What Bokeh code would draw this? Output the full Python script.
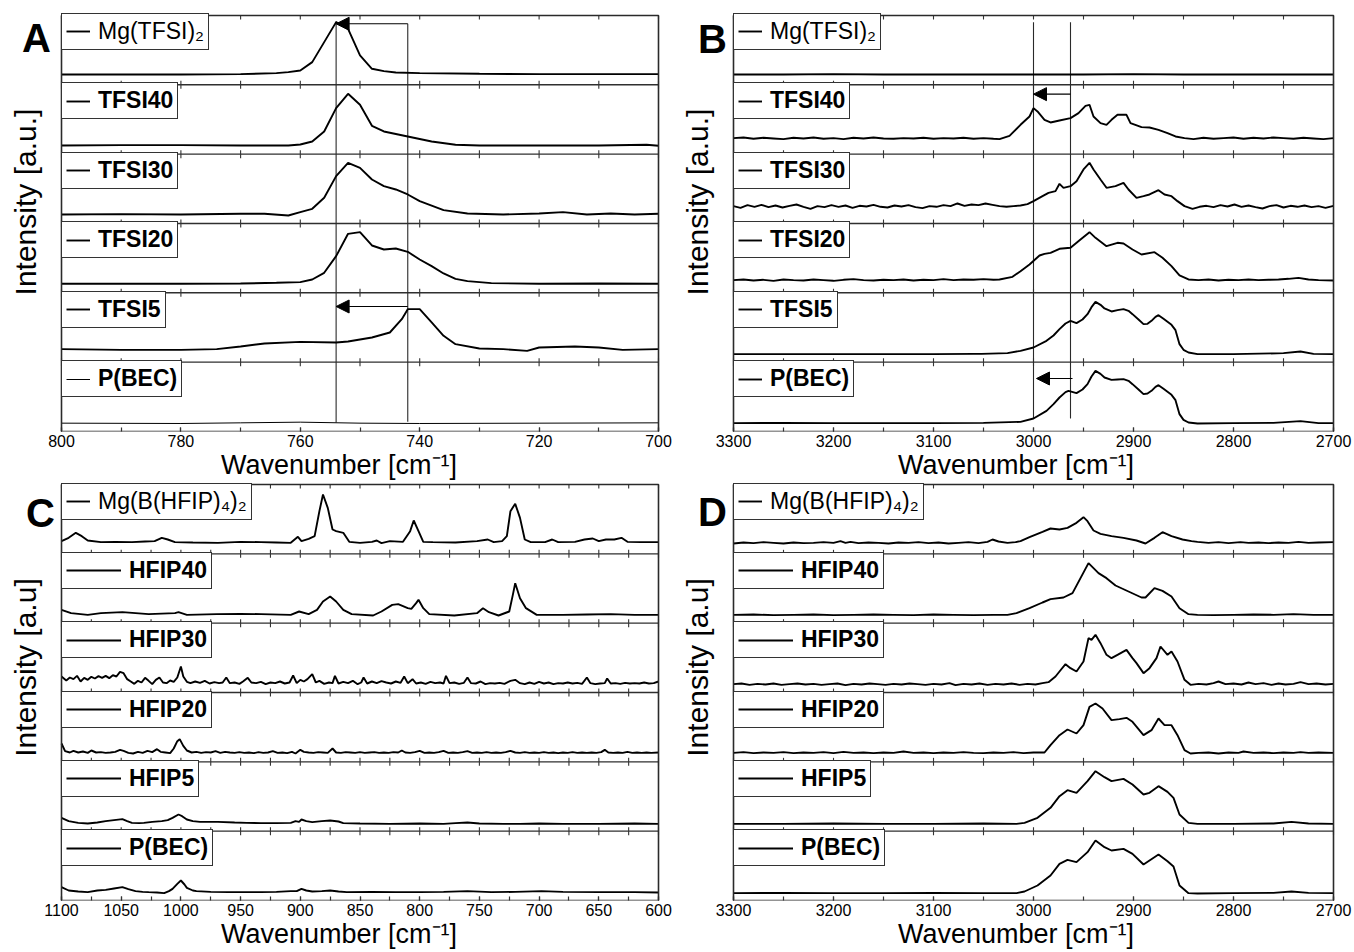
import math
import numpy as np
from bokeh.plotting import figure
from bokeh.models import (Range1d, Label, Legend, LegendItem, Arrow, NormalHead,
                          FixedTicker, BoxAnnotation)
from bokeh.layouts import column, row
from bokeh.embed import file_html
from bokeh.resources import INLINE

FONT = "Liberation Sans"
SPAN = 208  # intensity units per stacked sub-panel

# ---------------- Panel A (TFSI, 800-700 cm-1) ----------------
A_LABELS = ["Mg(TFSI)\u2082", "TFSI40", "TFSI30", "TFSI20", "TFSI5", "P(BEC)"]
A_MG_X = [800, 790, 780, 770, 764, 762, 760, 758, 756, 754, 752, 750, 748, 746, 744, 740, 730, 720, 710, 700]
A_MG_Y = [31, 31, 31, 32, 35, 38, 43, 68, 128, 188, 168, 88, 48, 41, 37, 35, 33, 32, 32, 32]
A_T40_X = [800, 790, 780, 770, 762, 760, 758, 756, 754, 752, 750, 748, 746, 742, 738, 734, 730, 720, 710, 702, 700]
A_T40_Y = [26, 27, 27, 26, 26, 29, 38, 68, 138, 181, 148, 85, 68, 53, 38, 28, 26, 26, 26, 28, 25]
A_T30_X = [800, 790, 780, 770, 766, 762, 760, 758, 756, 754, 752, 750, 748, 746, 744, 742, 740, 736, 732, 726, 720, 716, 712, 708, 704, 700]
A_T30_Y = [27, 28, 27, 29, 29, 24, 34, 44, 77, 142, 182, 167, 132, 112, 102, 87, 67, 40, 30, 27, 30, 34, 27, 30, 27, 29]
A_T20_X = [800, 780, 770, 764, 760, 758, 756, 754, 752, 750, 748, 746, 744, 742, 740, 738, 736, 734, 732, 728, 720, 710, 700]
A_T20_Y = [27, 27, 28, 30, 32, 40, 60, 110, 177, 182, 142, 130, 133, 123, 100, 80, 58, 42, 35, 29, 27, 28, 27]
A_T5_X = [800, 790, 780, 774, 770, 766, 760, 754, 752, 748, 745, 743, 742, 740, 738, 736, 734, 730, 726, 722, 720, 714, 710, 706, 700]
A_T5_Y = [39, 37, 37, 39, 47, 56, 61, 59, 62, 74, 89, 129, 159, 159, 119, 79, 54, 41, 39, 34, 44, 47, 44, 37, 39]
A_PB_X = [800, 780, 770, 760, 750, 740, 720, 700]
A_PB_Y = [25, 24, 26, 28, 25, 24, 25, 26]

# ---------------- Panel B (TFSI, 3300-2700 cm-1) ----------------
B_LABELS = A_LABELS
B_MG_X = [3300, 3250, 3200, 3150, 3100, 3050, 3000, 2950, 2900, 2850, 2800, 2750, 2700]
B_MG_Y = [31, 31, 32, 31, 31, 31, 31, 31, 32, 31, 31, 31, 31]
B_T40_X = [3300, 3290, 3280, 3270, 3260, 3250, 3240, 3230, 3220, 3210, 3200, 3190, 3180, 3170, 3160, 3150,
           3140, 3130, 3120, 3110, 3100, 3090, 3080, 3070, 3060, 3050, 3040,
           3034, 3024, 3013, 3004, 3000, 2996, 2989, 2983, 2974, 2963, 2955, 2948, 2944, 2940, 2933, 2927,
           2922, 2916, 2907, 2903, 2892, 2884, 2875, 2866, 2858, 2849,
           2840, 2830, 2820, 2810, 2800, 2790, 2780, 2770, 2760, 2750, 2740, 2730, 2720, 2710, 2700]
B_T40_Y = [48, 50, 46, 49, 47, 45, 49, 47, 50, 46, 48, 45, 49, 47, 50, 47, 46, 48, 47, 49, 46, 48, 47, 49, 46, 48, 46,
           45, 55, 88, 113, 138, 128, 103, 95, 101, 108, 123, 145, 148, 113, 93, 88, 103, 118, 118, 93, 81, 80, 73,
           63, 53, 48,
           45, 49, 46, 48, 50, 46, 49, 47, 50, 48, 46, 49, 47, 45, 48]
B_T30_X = [3300, 3293, 3286, 3279, 3272, 3265, 3258, 3251, 3244, 3237, 3230, 3223, 3216, 3209, 3202, 3195, 3188,
           3181, 3174, 3167, 3160, 3153, 3146, 3139, 3132, 3125, 3118, 3111, 3104, 3097, 3090, 3083, 3076, 3069,
           3062, 3055, 3048, 3041, 3034, 3027, 3020, 3013, 3006,
           3000, 2991, 2985, 2978, 2974, 2970, 2963, 2957, 2950, 2944, 2940, 2933, 2927, 2918, 2910, 2905, 2897,
           2890, 2884, 2875, 2869, 2862, 2856, 2849,
           2841, 2834, 2827, 2820, 2813, 2806, 2799, 2792, 2785, 2778, 2771, 2764, 2757, 2750, 2743, 2736, 2729,
           2722, 2715, 2708, 2700]
B_T30_Y = [52, 47, 55, 50, 56, 49, 54, 48, 53, 57, 50, 44, 52, 49, 55, 50, 54, 47, 53, 51, 56, 50, 48, 54, 51, 55,
           49, 46, 52, 50, 55, 52, 60, 53, 57, 55, 60, 56, 52, 50, 52, 54, 58,
           67, 82, 92, 97, 119, 107, 112, 127, 162, 182, 162, 132, 107, 112, 122, 102, 77, 82, 87, 100, 87, 82, 67, 52,
           44, 50, 53, 49, 55, 51, 57, 50, 54, 49, 45, 52, 55, 48, 53, 50, 54, 49, 52, 47, 53]
B_T20_X = [3300, 3290, 3280, 3270, 3260, 3250, 3240, 3230, 3220, 3210, 3200, 3190, 3180, 3170, 3160, 3150,
           3140, 3130, 3120, 3110, 3100, 3090, 3080, 3070, 3060, 3050, 3040,
           3034, 3021, 3013, 3004, 2994, 2989, 2983, 2974, 2963, 2953, 2944, 2938, 2927, 2916, 2910, 2901, 2892,
           2879, 2871, 2862, 2854, 2845,
           2835, 2825, 2815, 2805, 2795, 2785, 2775, 2765, 2755, 2745, 2735, 2725, 2715, 2700]
B_T20_Y = [38, 40, 37, 39, 36, 40, 38, 37, 40, 38, 36, 39, 41, 38, 37, 39, 38, 40, 37, 39, 38, 41, 38, 40, 39, 41, 39,
           40, 48, 65, 85, 112, 117, 120, 132, 135, 160, 182, 165, 140, 150, 148, 130, 115, 122, 105, 80, 52, 40,
           38, 40, 37, 39, 38, 40, 38, 39, 40, 42, 45, 40, 38, 37]
B_T5_X = [3300, 3200, 3100, 3060, 3052, 3026, 3013, 3000, 2987, 2980, 2974, 2968, 2963, 2957, 2951, 2946, 2942,
          2938, 2933, 2929, 2922, 2916, 2910, 2905, 2901, 2895, 2890, 2886, 2882, 2878, 2875, 2870, 2866, 2862,
          2858, 2854, 2850, 2845, 2836, 2800, 2750, 2733, 2720, 2700]
B_T5_Y = [24, 24, 24, 25, 25, 27, 34, 44, 64, 80, 99, 116, 124, 117, 128, 144, 165, 181, 172, 161, 152, 156, 159,
          154, 144, 128, 114, 115, 124, 136, 141, 130, 121, 112, 96, 54, 37, 29, 24, 24, 27, 32, 25, 24]
B_PB_X = [3300, 3250, 3200, 3150, 3100, 3050, 3013, 3000, 2987, 2980, 2974, 2968, 2965, 2957, 2951, 2946, 2942,
          2938, 2933, 2929, 2922, 2916, 2910, 2905, 2901, 2895, 2890, 2886, 2882, 2878, 2875, 2870, 2866, 2862,
          2858, 2854, 2850, 2845, 2836, 2800, 2760, 2733, 2715, 2700]
B_PB_Y = [25, 26, 25, 25, 25, 26, 29, 39, 62, 82, 102, 118, 122, 115, 126, 142, 165, 182, 173, 162, 155, 156, 157,
          152, 142, 126, 112, 114, 122, 134, 139, 128, 119, 110, 94, 52, 35, 27, 24, 25, 26, 31, 25, 25]

# ---------------- Panel C (HFIP, 1100-600 cm-1) ----------------
C_LABELS = ["Mg(B(HFIP)\u2084)\u2082", "HFIP40", "HFIP30", "HFIP20", "HFIP5", "P(BEC)"]
C_MG_X = [1100, 1094, 1088, 1083, 1078, 1067, 1055, 1041, 1030, 1022, 1016, 1011, 1005, 990, 969, 950, 933, 920,
          908, 902, 899, 893, 888, 884, 881, 877, 873, 870, 864, 859, 850, 840, 836, 832, 825, 814, 808, 805, 801,
          797, 789, 770, 752, 743, 738, 731, 727, 724, 720, 716, 712, 707, 695, 689, 684, 670, 662, 655, 650, 644,
          637, 631, 626, 615, 600]
C_MG_Y = [38, 48, 63, 53, 40, 35, 36, 35, 37, 38, 48, 43, 35, 34, 33, 36, 35, 34, 33, 51, 38, 45, 53, 128, 178,
          138, 73, 68, 63, 36, 33, 36, 40, 32, 38, 36, 68, 100, 68, 36, 35, 34, 38, 43, 35, 38, 53, 128, 150, 108,
          43, 35, 35, 43, 35, 36, 43, 46, 38, 43, 43, 48, 36, 35, 35]
C_H40_X = [1100, 1092, 1078, 1067, 1049, 1027, 1005, 1002, 995, 970, 950, 933, 908, 901, 893, 886, 881, 875, 870,
           864, 857, 839, 832, 823, 818, 810, 807, 803, 801, 797, 792, 771, 752, 747, 742, 734, 725, 722, 720, 716,
           711, 702, 680, 660, 640, 620, 600]
C_H40_Y = [40, 30, 25, 30, 33, 27, 30, 33, 25, 27, 28, 27, 25, 35, 27, 40, 65, 80, 65, 40, 27, 23, 35, 55, 57, 45,
           43, 60, 70, 45, 27, 23, 30, 45, 33, 23, 35, 85, 120, 75, 45, 25, 25, 26, 27, 25, 25]
C_H30_X = [1100, 1096, 1093, 1090, 1087, 1084, 1081, 1078, 1075, 1072, 1069, 1066, 1063, 1060, 1057, 1054, 1051,
           1048, 1045, 1042, 1039, 1036, 1033, 1030, 1027, 1024, 1021, 1018, 1015, 1012, 1009, 1006, 1003, 1000,
           998, 995, 992, 988, 984, 980, 976, 972, 968, 965, 962, 959, 955, 951, 948, 944, 941, 937, 933, 929, 925,
           921, 917, 913, 909, 906, 903, 900, 897, 894, 890, 887, 884, 880, 876, 873, 871, 868, 864, 860, 856, 852,
           849, 847, 844, 840, 836, 832, 828, 824, 820, 816, 813, 810, 806, 803, 799, 795, 791, 787, 783, 780, 778,
           775, 771, 767, 763, 760, 757, 753, 749, 745, 741, 737, 733, 729, 724, 720, 716, 712, 708, 704, 700, 696,
           692, 688, 684, 680, 676, 672, 668, 664, 660, 657, 653, 649, 645, 643, 640, 636, 632, 628, 624, 620, 616,
           612, 608, 604, 600]
C_H30_Y = [48, 36, 45, 40, 50, 33, 44, 38, 47, 42, 49, 44, 50, 43, 52, 48, 62, 58, 40, 33, 26, 35, 30, 44, 35, 25,
           38, 45, 30, 28, 36, 32, 45, 78, 48, 32, 28, 33, 29, 35, 27, 31, 28, 30, 45, 28, 30, 26, 33, 44, 30, 28,
           32, 25, 30, 28, 33, 27, 30, 51, 28, 38, 33, 40, 55, 30, 35, 26, 30, 28, 50, 27, 32, 28, 35, 25, 30, 45,
           27, 33, 28, 34, 30, 27, 33, 29, 48, 28, 40, 27, 30, 26, 32, 28, 30, 27, 50, 28, 30, 26, 29, 45, 28, 27,
           33, 25, 28, 27, 29, 26, 35, 38, 28, 25, 30, 26, 32, 27, 30, 25, 28, 27, 30, 27, 29, 26, 45, 28, 25, 27,
           28, 42, 27, 28, 26, 29, 27, 28, 27, 30, 27, 28, 33]
C_H20_X = [1100, 1097, 1093, 1090, 1086, 1082, 1078, 1075, 1071, 1067, 1063, 1059, 1055, 1051, 1048, 1044, 1040,
           1036, 1032, 1028, 1024, 1020, 1017, 1013, 1009, 1006, 1003, 1001, 998, 995, 991, 987, 983, 979, 975, 971,
           967, 963, 959, 955, 951, 947, 943, 939, 935, 931, 927, 923, 919, 915, 911, 907, 904, 900, 897, 893, 889,
           885, 881, 877, 873, 870, 866, 862, 858, 854, 850, 846, 842, 838, 834, 830, 826, 822, 818, 815, 812, 808,
           804, 800, 796, 792, 788, 784, 780, 776, 772, 768, 764, 760, 756, 752, 748, 744, 740, 736, 732, 728, 724,
           720, 716, 712, 708, 704, 700, 696, 692, 688, 684, 680, 676, 672, 668, 664, 660, 656, 652, 648, 645, 642,
           638, 634, 630, 626, 622, 618, 614, 610, 606, 600]
C_H20_Y = [55, 32, 28, 33, 28, 31, 27, 34, 28, 29, 27, 28, 30, 36, 33, 27, 25, 30, 27, 33, 29, 38, 30, 28, 26, 40,
           62, 68, 48, 34, 28, 30, 27, 29, 28, 32, 27, 30, 28, 27, 29, 27, 28, 26, 29, 27, 28, 32, 27, 28, 26, 30,
           25, 36, 30, 28, 27, 29, 28, 27, 40, 28, 27, 29, 28, 27, 29, 27, 28, 29, 27, 28, 27, 29, 28, 34, 28, 27,
           29, 33, 27, 28, 27, 29, 33, 27, 28, 27, 29, 32, 27, 28, 27, 29, 27, 28, 27, 29, 33, 28, 27, 29, 27, 28,
           27, 29, 27, 28, 26, 28, 27, 29, 27, 28, 27, 28, 27, 29, 36, 28, 27, 28, 27, 30, 27, 28, 27, 28, 27, 28]
C_H5_X = [1100, 1094, 1086, 1078, 1070, 1063, 1056, 1049, 1045, 1041, 1035, 1031, 1024, 1016, 1011, 1007, 1002,
          999, 995, 990, 984, 976, 969, 955, 945, 933, 920, 908, 904, 901, 899, 895, 890, 882, 875, 868, 864, 850,
          825, 800, 780, 770, 760, 750, 730, 716, 700, 680, 650, 620, 600]
C_H5_Y = [40, 30, 25, 23, 26, 30, 33, 36, 30, 25, 24, 25, 28, 30, 33, 40, 50, 45, 35, 30, 28, 28, 28, 26, 25, 24,
          24, 25, 30, 28, 35, 30, 27, 30, 32, 29, 24, 23, 22, 23, 22, 24, 26, 23, 22, 22, 23, 22, 22, 23, 22]
C_PB_X = [1100, 1094, 1086, 1078, 1070, 1063, 1056, 1049, 1044, 1038, 1032, 1027, 1020, 1014, 1010, 1007, 1003,
          1000, 997, 995, 990, 987, 975, 960, 945, 933, 920, 908, 903, 899, 895, 890, 882, 875, 868, 861, 840, 820,
          800, 780, 760, 740, 720, 698, 680, 650, 620, 600]
C_PB_Y = [40, 30, 27, 25, 30, 32, 36, 40, 34, 28, 26, 25, 24, 22, 28, 35, 50, 60, 48, 38, 30, 28, 26, 25, 25, 25,
          26, 28, 28, 35, 30, 27, 28, 30, 27, 25, 26, 25, 25, 26, 28, 25, 26, 28, 26, 25, 25, 24]

# ---------------- Panel D (HFIP, 3300-2700 cm-1) ----------------
D_LABELS = C_LABELS
D_MG_X = [3300, 3290, 3280, 3270, 3260, 3250, 3240, 3230, 3220, 3210, 3200, 3193, 3188, 3183, 3175, 3165, 3155,
          3145, 3135, 3125, 3115, 3105, 3095, 3085, 3075, 3065, 3055, 3046, 3041, 3035, 3026, 3018, 3013, 3004,
          2991, 2983, 2974, 2966, 2957, 2950, 2946, 2940, 2933, 2922, 2910, 2897, 2888, 2879, 2871, 2862, 2851,
          2842, 2836, 2825, 2815, 2805, 2793, 2785, 2775, 2765, 2755, 2745, 2735, 2725, 2715, 2700]
D_MG_Y = [31, 34, 32, 35, 33, 31, 34, 32, 33, 35, 33, 38, 33, 36, 32, 34, 33, 31, 34, 33, 35, 32, 34, 31, 33, 35,
          32, 36, 43, 37, 33, 35, 38, 50, 66, 76, 73, 78, 93, 110, 98, 70, 60, 53, 48, 40, 31, 48, 65, 53, 43, 38,
          36, 33, 35, 32, 35, 33, 34, 32, 34, 33, 36, 33, 34, 35]
D_H40_X = [3300, 3280, 3260, 3240, 3220, 3200, 3180, 3160, 3140, 3120, 3100, 3080, 3060, 3040, 3026, 3017, 3004,
           2991, 2983, 2970, 2961, 2953, 2945, 2935, 2927, 2918, 2905, 2892, 2888, 2879, 2871, 2862, 2854, 2845,
           2836, 2820, 2800, 2780, 2760, 2740, 2720, 2700]
D_H40_Y = [25, 26, 24, 25, 26, 24, 25, 26, 25, 24, 26, 25, 24, 25, 25, 30, 45, 62, 72, 77, 90, 135, 180, 150, 135,
           113, 95, 77, 77, 105, 97, 80, 45, 27, 25, 24, 25, 26, 25, 27, 25, 25]
D_H30_X = [3300, 3292, 3284, 3276, 3268, 3260, 3252, 3244, 3236, 3228, 3220, 3212, 3204, 3196, 3188, 3180, 3172,
           3164, 3156, 3148, 3140, 3132, 3124, 3116, 3108, 3100, 3092, 3084, 3078, 3070, 3062, 3054, 3046, 3038,
           3030, 3022, 3014, 3006, 2998,
           2991, 2985, 2978, 2974, 2968, 2963, 2957, 2950, 2945, 2942, 2938, 2933, 2927, 2922, 2916, 2907, 2901,
           2897, 2890, 2884, 2877, 2873, 2866, 2862, 2856, 2849, 2843,
           2835, 2827, 2820, 2815, 2808, 2800, 2792, 2785, 2778, 2770, 2762, 2755, 2748, 2740, 2733, 2725, 2717,
           2708, 2700]
D_H30_Y = [25, 27, 23, 26, 24, 27, 23, 25, 27, 24, 26, 23, 25, 27, 22, 26, 24, 27, 25, 23, 26, 24, 27, 25, 23, 26,
           24, 28, 22, 26, 24, 27, 23, 26, 24, 27, 23, 26, 24,
           28, 31, 48, 63, 85, 73, 63, 93, 163, 158, 173, 148, 113, 103, 113, 128, 103, 88, 58, 73, 103, 138, 113,
           123, 93, 38, 23,
           26, 24, 28, 33, 25, 27, 24, 30, 25, 28, 23, 27, 24, 26, 31, 25, 27, 24, 26]
D_H20_X = [3300, 3290, 3280, 3270, 3260, 3250, 3240, 3230, 3220, 3210, 3200, 3190, 3180, 3170, 3160, 3150, 3140,
           3130, 3120, 3110, 3100, 3090, 3080, 3070, 3060, 3050, 3040, 3030, 3020, 3010, 3000,
           2989, 2983, 2974, 2966, 2957, 2950, 2944, 2938, 2931, 2922, 2914, 2907, 2901, 2890, 2882, 2875, 2869,
           2862, 2856, 2849, 2843,
           2835, 2825, 2815, 2805, 2795, 2790, 2780, 2770, 2760, 2750, 2740, 2733, 2725, 2715, 2700]
D_H20_Y = [27, 29, 26, 28, 27, 29, 26, 28, 27, 29, 26, 30, 27, 28, 26, 28, 27, 31, 27, 28, 26, 28, 27, 29, 27, 26,
           28, 27, 29, 26, 28,
           28, 50, 80, 97, 85, 110, 165, 175, 160, 125, 128, 132, 120, 80, 95, 130, 110, 110, 80, 35, 25,
           27, 28, 25, 28, 27, 31, 27, 28, 26, 28, 27, 29, 27, 28, 27]
D_H5_X = [3300, 3250, 3200, 3150, 3100, 3050, 3017, 3009, 2996, 2983, 2974, 2966, 2957, 2946, 2938, 2929, 2922,
          2910, 2901, 2890, 2884, 2875, 2866, 2860, 2854, 2845, 2836, 2800, 2760, 2742, 2725, 2700]
D_H5_Y = [22, 22, 23, 22, 22, 23, 22, 25, 40, 70, 105, 123, 115, 150, 180, 162, 150, 157, 140, 110, 115, 135, 118,
          100, 50, 25, 22, 22, 23, 28, 23, 22]
D_PB_X = D_H5_X
D_PB_Y = [22, 23, 22, 22, 23, 22, 22, 27, 45, 75, 110, 122, 115, 145, 180, 160, 150, 155, 140, 108, 120, 138, 118,
          102, 45, 22, 21, 22, 23, 27, 23, 22]

# Marker lines and arrows (wavenumber, intensity-stack coordinates)
A_VLINES_X = [754, 742]
A_VLINES_Y0 = [27, 29]
A_VLINES_Y1 = [1231, 1223]
A_ARROWS = [(742, 1223, 754, 1223), (742, 375, 754, 375)]
B_VLINES_X = [3000, 2963]
B_VLINES_Y0 = [39, 39]
B_VLINES_Y1 = [1228, 1228]
B_ARROWS = [(2963, 1012, 3000, 1012), (2961, 159, 2997, 159)]


def build_panel(series, labels, bold, glyph_w, xr, major, minor_step, width, height,
                box_l, box_r, box_t, bottom, letter, letter_xy, ylabel, ylabel_xy,
                vlines=None, arrows=None, thin_last=False):
    """One quadrant.  The frame covers the whole figure above the x axis so that the panel
    letter and the rotated intensity title (left of the plotting box) can be drawn inside it."""
    frame_h = height - bottom
    box_h = frame_h - box_t
    sx = (xr[1] - xr[0]) / (box_r - box_l)     # data units per pixel (x)
    sy = 6 * SPAN / box_h                        # data units per pixel (y)

    def px2x(px):
        return xr[0] + (px - box_l) * sx

    def px2y(py):  # py measured from top of figure
        return (frame_h - py) * sy

    p = figure(width=width, height=height,
               x_range=Range1d(px2x(0), px2x(width)), y_range=Range1d(0, frame_h * sy),
               output_backend="svg", toolbar_location=None, y_axis_location=None,
               min_border_left=0, min_border_right=0, min_border_top=0, min_border_bottom=bottom)
    p.xgrid.visible = False
    p.ygrid.visible = False
    p.outline_line_color = None
    p.background_fill_color = "white"
    p.border_fill_color = "white"

    lo, hi = min(xr), max(xr)
    ax = p.xaxis[0]
    ax.ticker = FixedTicker(ticks=list(np.arange(lo, hi + 0.1, major)),
                            minor_ticks=list(np.arange(lo, hi + 0.1, minor_step)))
    ax.major_tick_in = 4
    ax.major_tick_out = 0
    ax.minor_tick_in = 4
    ax.minor_tick_out = 0
    ax.axis_line_color = None
    ax.major_tick_line_color = "#333333"
    ax.minor_tick_line_color = "#333333"
    ax.major_tick_line_width = 1.2
    ax.minor_tick_line_width = 1.2
    ax.major_label_text_font = FONT
    ax.major_label_text_font_size = "16px"
    ax.major_label_text_color = "black"
    ax.major_label_standoff = 3
    ax.axis_label = "Wavenumber [cm\u207b\u00b9]"
    ax.axis_label_text_font = FONT
    ax.axis_label_text_font_size = "27px"
    ax.axis_label_text_font_style = "normal"
    ax.axis_label_text_color = "black"
    ax.axis_label_standoff = 0

    # plotting box
    p.add_layout(BoxAnnotation(left=xr[0], right=xr[1], bottom=0, top=6 * SPAN,
                               fill_alpha=0, line_color="#2a2a2a", line_width=1.6, line_alpha=1.0))
    # separators between stacked sub-panels
    p.segment(x0=[xr[0]] * 5, x1=[xr[1]] * 5, y0=[k * SPAN for k in range(1, 6)],
              y1=[k * SPAN for k in range(1, 6)], line_color="#2f2f2f", line_width=1.4)

    # inward ticks on separators and top edge
    tl = 4 * sy
    tx = np.arange(lo, hi + 0.1, minor_step)
    x0, y0, y1 = [], [], []
    for k in range(1, 7):
        for t in tx:
            x0.append(t)
            y0.append(k * SPAN - tl)
            y1.append(min(k * SPAN + tl, 6 * SPAN))
    p.segment(x0=x0, y0=y0, x1=x0, y1=y1, line_color="#333333", line_width=1.1)

    if vlines is not None:
        vx, vy0, vy1 = vlines
        p.segment(x0=vx, y0=vy0, x1=vx, y1=vy1, line_color="#2a2a2a", line_width=1.1)
    if arrows is not None:
        for (xs, ys, xe, ye) in arrows:
            p.add_layout(Arrow(end=NormalHead(size=13, fill_color="black", line_color="black"),
                               x_start=xs, y_start=ys, x_end=xe, y_end=ye,
                               line_color="black", line_width=1.1))

    leg_h = 34
    sub_h = box_h / 6
    for k, ((xs, ys), lab) in enumerate(zip(series, labels)):
        off = (5 - k) * SPAN
        lw = 1.0 if (thin_last and k == 5) else 1.9
        r = p.line(list(xs), [v + off for v in ys], line_color="black", line_width=lw)
        top_px = box_t + k * sub_h + 1.5
        leg = Legend(items=[LegendItem(label=lab, renderers=[r])],
                     location=(box_l, frame_h - top_px - leg_h), margin=0, padding=4, spacing=0,
                     glyph_width=glyph_w[k], glyph_height=26, label_height=26, label_standoff=8,
                     label_text_font=FONT, label_text_font_size="23px",
                     label_text_font_style="bold" if bold[k] else "normal",
                     label_text_color="black",
                     border_line_color="#333333", border_line_width=1.2, border_line_alpha=1.0,
                     background_fill_color="white", background_fill_alpha=1.0)
        p.add_layout(leg)

    p.add_layout(Label(x=px2x(ylabel_xy[0]), y=px2y(ylabel_xy[1]), text=ylabel, angle=math.pi / 2,
                       text_align="center", text_baseline="middle", text_font=FONT,
                       text_font_size="30px", text_color="black"))
    p.add_layout(Label(x=px2x(letter_xy[0]), y=px2y(letter_xy[1]), text=letter,
                       text_align="center", text_baseline="middle", text_font=FONT,
                       text_font_size="40px", text_font_style="bold", text_color="black"))
    return p


A_SERIES = [(A_MG_X, A_MG_Y), (A_T40_X, A_T40_Y), (A_T30_X, A_T30_Y), (A_T20_X, A_T20_Y),
            (A_T5_X, A_T5_Y), (A_PB_X, A_PB_Y)]
B_SERIES = [(B_MG_X, B_MG_Y), (B_T40_X, B_T40_Y), (B_T30_X, B_T30_Y), (B_T20_X, B_T20_Y),
            (B_T5_X, B_T5_Y), (B_PB_X, B_PB_Y)]
C_SERIES = [(C_MG_X, C_MG_Y), (C_H40_X, C_H40_Y), (C_H30_X, C_H30_Y), (C_H20_X, C_H20_Y),
            (C_H5_X, C_H5_Y), (C_PB_X, C_PB_Y)]
D_SERIES = [(D_MG_X, D_MG_Y), (D_H40_X, D_H40_Y), (D_H30_X, D_H30_Y), (D_H20_X, D_H20_Y),
            (D_H5_X, D_H5_Y), (D_PB_X, D_PB_Y)]

BOLD = [False, True, True, True, True, True]
GW_T = [24, 24, 24, 24, 24, 24]
GW_H = [24, 55, 55, 55, 55, 55]

pA = build_panel(A_SERIES, A_LABELS, BOLD, GW_T, (800, 700), 20, 10, 677, 482, 61, 658, 15, 50,
                 "A", (36, 38), "Intensity [a.u.]", (25, 202),
                 (A_VLINES_X, A_VLINES_Y0, A_VLINES_Y1), A_ARROWS, thin_last=True)
pB = build_panel(B_SERIES, B_LABELS, BOLD, GW_T, (3300, 2700), 100, 50, 677, 482, 56, 656, 15, 50,
                 "B", (35, 39), "Intensity [a.u.]", (20, 202),
                 (B_VLINES_X, B_VLINES_Y0, B_VLINES_Y1), B_ARROWS)
pC = build_panel(C_SERIES, C_LABELS, BOLD, GW_H, (1100, 600), 50, 25, 677, 470, 61, 658, 2, 52,
                 "C", (40, 30), "Intensity [a.u]", (25, 185))
pD = build_panel(D_SERIES, D_LABELS, BOLD, GW_H, (3300, 2700), 100, 50, 677, 470, 56, 656, 2, 52,
                 "D", (35, 29), "Intensity [a.u]", (20, 185))

layout = column(row(pA, pB), row(pC, pD))
open("out.html", "w").write(file_html(layout, INLINE))
